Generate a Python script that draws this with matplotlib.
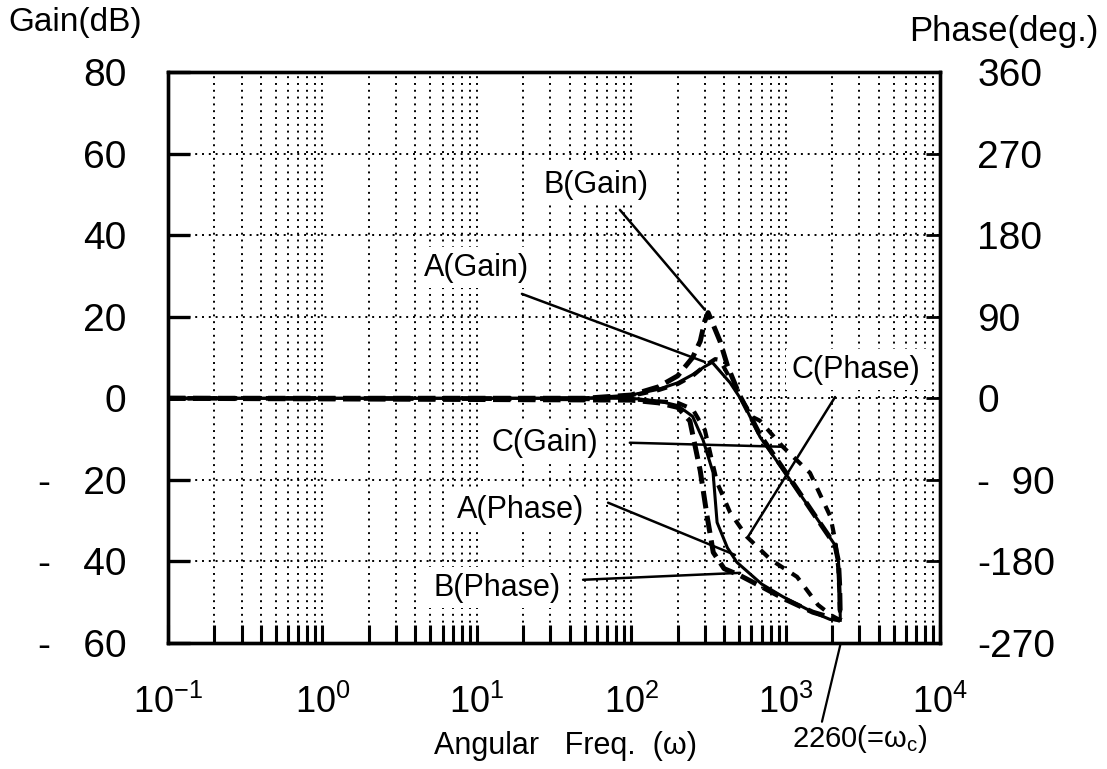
import matplotlib
matplotlib.use("Agg")
import matplotlib.pyplot as plt
from matplotlib.ticker import FixedLocator, FixedFormatter, LogLocator, NullFormatter

plt.rcParams['font.family'] = ['Liberation Sans', 'DejaVu Sans']
plt.rcParams['mathtext.fontset'] = 'custom'
plt.rcParams['mathtext.rm'] = 'Liberation Sans'
plt.rcParams['mathtext.it'] = 'Liberation Sans'
plt.rcParams['mathtext.bf'] = 'Liberation Sans:bold'

# ---------------- data ----------------
w_gain_A = [0.1, 50, 100, 150, 200, 250, 300, 335, 437, 530, 683, 1037, 1500, 2090, 2200, 2240, 2260]
gain_A   = [0, 0, 0.8, 2.2, 3.8, 5.8, 7.8, 8.8, 3.8, -1.0, -9.5, -19.3, -28, -36, -40, -46, -54]

w_gain_B = [0.1, 50, 100, 150, 200, 250, 280, 300, 315, 340, 376, 420, 500, 683, 1037, 1500, 2090, 2200, 2240, 2260]
gain_B   = [0, 0, 0.8, 2.8, 5.5, 10, 14, 19, 21, 18, 14, 8, 1, -9, -19, -28, -36, -40, -46, -54]

w_gain_C = [0.1, 50, 100, 150, 200, 250, 300, 350, 376, 507, 611, 682, 960, 1439, 1950, 2100, 2200, 2260]
gain_C   = [0, 0, 0.6, 2.0, 3.5, 5.5, 8, 9.6, 9.4, 0.3, -4.6, -5.5, -11.9, -18.3, -29, -35, -42, -54]

w_phase_A = [0.1, 100, 150, 200, 250, 292, 339, 360, 420, 484, 700, 962, 1500, 1940, 2260]
phase_A   = [0, 0, -3, -8, -20, -46, -82, -137, -165, -181, -205, -219, -236, -244, -245]

w_phase_B = [0.1, 100, 150, 200, 240, 280, 310, 340, 400, 500, 700, 1000, 1500, 2260]
phase_B   = [0, -2, -5, -10, -25, -80, -130, -170, -188, -195, -208, -222, -236, -245]

w_phase_C = [0.1, 100, 200, 250, 300, 360, 437, 563, 800, 1186, 1622, 2000, 2260]
phase_C   = [0, -1, -5, -12, -35, -93, -126, -153, -178, -197, -228, -240, -245]

x_ticks = [0.1, 1, 10, 100, 1000, 10000]
x_labels = ["$10^{-1}$", "$10^{0}$", "$10^{1}$", "$10^{2}$", "$10^{3}$", "$10^{4}$"]
gain_ticks = [-60, -40, -20, 0, 20, 40, 60, 80]
gain_labels = ["-   60", "-   40", "-   20", "0", "20", "40", "60", "80"]
phase_ticks = [-270, -180, -90, 0, 90, 180, 270, 360]
phase_labels = ["-270", "-180", "-  90", "0", "90", "180", "270", "360"]

# annotations: label, text position (w, dB), leader start (w, dB), leader end (w, dB)
annot_labels = ["B(Gain)", "A(Gain)", "C(Phase)", "C(Gain)", "A(Phase)", "B(Phase)"]
annot_text = [(59, 52.3), (10.0, 32.0), (2860, 7.0), (27.7, -10.9), (19.1, -27.4), (13.5, -46.5)]
annot_start = [(84.5, 46.2), (19.6, 25.6), (2090, 0.3), (98, -10.9), (70.8, -25.6), (48.8, -44.5)]
annot_end = [(300, 21.7), (300, 8.9), (570, -34), (990, -11.9), (470, -38.4), (507, -42.8)]

wc_value = 2260

# ---------------- figure ----------------
W, H = 1107, 769
fig = plt.figure(figsize=(W / 100, H / 100), dpi=100)
L, R, T, B = 168, 940, 72, 643
ax = fig.add_axes([L / W, 1 - B / H, (R - L) / W, (B - T) / H])
ax.set_xscale('log')
ax.set_xlim(0.1, 1e4)
ax.set_ylim(-60, 80)

ax.xaxis.set_major_locator(FixedLocator(x_ticks))
ax.xaxis.set_major_formatter(FixedFormatter(x_labels))
ax.xaxis.set_minor_locator(LogLocator(base=10, subs=range(2, 10), numticks=50))
ax.xaxis.set_minor_formatter(NullFormatter())
ax.yaxis.set_major_locator(FixedLocator(gain_ticks))
ax.yaxis.set_major_formatter(FixedFormatter(gain_labels))

ax.grid(True, which='both', axis='x', ls=(0, (1, 2.5)), color='k', lw=1.4)
ax.grid(True, which='major', axis='y', ls=(0, (1, 2.5)), color='k', lw=1.4)
ax.set_axisbelow(True)

for s in ax.spines.values():
    s.set_linewidth(2.4)

ax.tick_params(axis='x', which='both', direction='in', length=13, width=2.2, top=False)
ax.tick_params(axis='x', which='major', pad=30, labelsize=26)
ax.tick_params(axis='y', direction='in', length=16, width=2.4, pad=30, labelsize=28)

ax2 = ax.twinx()
ax2.set_ylim(-270, 360)
ax2.yaxis.set_major_locator(FixedLocator(phase_ticks))
ax2.yaxis.set_major_formatter(FixedFormatter(phase_labels))
ax2.tick_params(axis='y', direction='in', length=10, width=2.0, pad=27, labelsize=28)
for s in ax2.spines.values():
    s.set_linewidth(2.4)

# gain curves
ax.plot(w_gain_A, gain_A, color='k', lw=2.2, ls='-', zorder=5)
ax.plot(w_gain_B, gain_B, color='k', lw=3.6, ls=(0, (3.5, 1.5)), zorder=5)
ax.plot(w_gain_C, gain_C, color='k', lw=3.0, ls=(0, (2.5, 2.2)), zorder=5)

# phase curves
ax2.plot(w_phase_A, phase_A, color='k', lw=2.2, ls='-', zorder=5)
ax2.plot(w_phase_B, phase_B, color='k', lw=3.6, ls=(0, (3.5, 1.5)), zorder=5)
ax2.plot(w_phase_C, phase_C, color='k', lw=3.0, ls=(0, (2.5, 2.2)), zorder=5)

# annotations
for lab, tp, sp, ep in zip(annot_labels, annot_text, annot_start, annot_end):
    ax.text(tp[0], tp[1], lab, fontsize=22, ha='center', va='center', zorder=6,
            bbox=dict(facecolor='white', edgecolor='none', pad=4))
    ax.annotate('', xy=ep, xytext=sp,
                arrowprops=dict(arrowstyle='-', lw=1.8, color='k', shrinkA=0, shrinkB=0),
                zorder=7)

# omega_c marker
ax.annotate('', xy=(wc_value, -60.5), xytext=(1720, -79.3),
            arrowprops=dict(arrowstyle='-', lw=1.6, color='k', shrinkA=0, shrinkB=0),
            annotation_clip=False)
ax.text(3030, -83.5, r"2260(=$\omega_{\mathrm{c}}$)", fontsize=21, ha='center', va='center',
        clip_on=False)

# axis titles
fig.text(8 / W, 1 - 22 / H, "Gain(dB)", fontsize=24, ha='left', va='center')
fig.text(1098 / W, 1 - 32 / H, "Phase(deg.)", fontsize=25, ha='right', va='center')
fig.text(565 / W, 1 - 746 / H, "Angular   Freq.  (ω)", fontsize=22, ha='center', va='center')

fig.savefig("out.png", dpi=100, facecolor='white')
